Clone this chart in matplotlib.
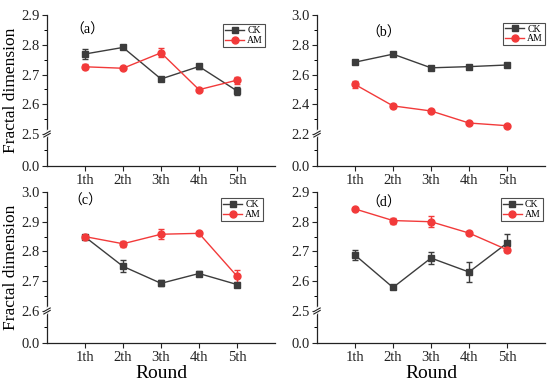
import numpy as np
import matplotlib
matplotlib.use("Agg")
import matplotlib.pyplot as plt
from matplotlib.lines import Line2D

plt.rcParams['font.family'] = ['Liberation Serif', 'Noto Sans CJK SC']

rounds = ["1th", "2th", "3th", "4th", "5th"]

# panel (a)
ck_a = [2.769, 2.791, 2.685, 2.727, 2.645]
ck_a_err = [0.018, 0.005, 0.006, 0.009, 0.014]
am_a = [2.726, 2.721, 2.773, 2.649, 2.681]
am_a_err = [0.008, 0.004, 0.015, 0.005, 0.012]

# panel (b)
ck_b = [2.683, 2.737, 2.645, 2.653, 2.664]
ck_b_err = [0.008, 0.008, 0.006, 0.006, 0.006]
am_b = [2.533, 2.389, 2.355, 2.274, 2.256]
am_b_err = [0.022, 0.016, 0.008, 0.008, 0.006]

# panel (c)
ck_c = [2.849, 2.750, 2.693, 2.726, 2.689]
ck_c_err = [0.006, 0.020, 0.010, 0.008, 0.005]
am_c = [2.850, 2.826, 2.858, 2.861, 2.717]
am_c_err = [0.005, 0.010, 0.017, 0.004, 0.020]

# panel (d)
ck_d = [2.688, 2.579, 2.678, 2.631, 2.728]
ck_d_err = [0.018, 0.004, 0.020, 0.035, 0.030]
am_d = [2.843, 2.804, 2.800, 2.762, 2.706]
am_d_err = [0.004, 0.010, 0.018, 0.007, 0.008]

panels = [
    ("（a）", ck_a, ck_a_err, am_a, am_a_err, 2.5, 2.9, 0.1),
    ("（b）", ck_b, ck_b_err, am_b, am_b_err, 2.2, 3.0, 0.2),
    ("（c）", ck_c, ck_c_err, am_c, am_c_err, 2.6, 3.0, 0.1),
    ("（d）", ck_d, ck_d_err, am_d, am_d_err, 2.5, 2.9, 0.1),
]

# axes rectangles (figure fraction)
rects = [
    [0.0855, 0.5654, 0.4145, 0.3953],
    [0.5764, 0.5654, 0.4145, 0.3953],
    [0.0855, 0.1021, 0.4145, 0.3953],
    [0.5764, 0.1021, 0.4145, 0.3953],
]
label_pos = [(1.05, 0.90), (1.76, 0.88), (1.0, 0.94), (1.76, 0.93)]
legend_anchor = [(0.956, 0.94), (1.0, 0.95), (0.947, 0.96), (0.99, 0.96)]

CK_COLOR = "#3c3c3c"
AM_COLOR = "#f23a3a"
K = 32 / 119  # height of the low segment relative to the upper segment


def make_scale(lo, hi):
    def fwd(v):
        v = np.asarray(v, dtype=float)
        return np.where(v < lo, v / lo * K, K + (v - lo) / (hi - lo))

    def inv(u):
        u = np.asarray(u, dtype=float)
        return np.where(u < K, u / K * lo, lo + (u - K) * (hi - lo))
    return fwd, inv


fig = plt.figure(figsize=(5.5, 3.82), dpi=100)
x = np.arange(1, len(rounds) + 1)

for i, (lab, ck, cke, am, ame, lo, hi, step) in enumerate(panels):
    ax = fig.add_axes(rects[i])
    fwd, inv = make_scale(lo, hi)
    ax.set_yscale("function", functions=(fwd, inv))

    eb1 = ax.errorbar(x, ck, yerr=cke, color=CK_COLOR, marker="s", ms=4.5, lw=1,
                      elinewidth=1, capsize=2, capthick=1, label="CK", zorder=3)
    eb2 = ax.errorbar(x, am, yerr=ame, color=AM_COLOR, marker="o", ms=5, lw=1,
                      elinewidth=1, capsize=2, capthick=1, label="AM", zorder=3)

    ax.set_xlim(0, 6)
    ax.set_ylim(0, hi)
    nmaj = int(round((hi - lo) / step))
    major = [0.0] + [lo + j * step for j in range(nmaj + 1)]
    minor = [lo / 2] + [lo + (j + 0.5) * step for j in range(nmaj)]
    ax.set_yticks(major)
    ax.set_yticklabels([f"{v:.1f}" for v in major])
    ax.set_yticks(minor, minor=True)
    ax.set_xticks(x)
    ax.set_xticklabels(rounds)

    for s in ["top", "right"]:
        ax.spines[s].set_visible(False)
    for s in ["left", "bottom"]:
        ax.spines[s].set_linewidth(0.9)
        ax.spines[s].set_color("#222222")
    ax.tick_params(axis="both", which="major", direction="out", length=3.5,
                   width=0.8, labelsize=10.5, pad=2, colors="#222222")
    ax.tick_params(axis="y", which="minor", direction="out", length=2, width=0.7)
    ax.tick_params(axis="x", which="minor", length=0)

    # axis break mark
    yb = K / (K + 1)
    ax.add_line(Line2D([-0.006, 0.006], [yb - 0.012, yb + 0.012], transform=ax.transAxes,
                       color="white", lw=3, clip_on=False, zorder=5))
    for dy in (-0.008, 0.008):
        ax.add_line(Line2D([-0.014, 0.014], [yb + dy - 0.012, yb + dy + 0.012],
                           transform=ax.transAxes, color="#222222", lw=0.8,
                           clip_on=False, zorder=6))

    ax.text(label_pos[i][0], label_pos[i][1], lab, transform=ax.get_xaxis_transform(),
            ha="center", va="center", fontsize=10)

    leg = ax.legend(handles=[eb1[0], eb2[0]], labels=["CK", "AM"],
                    loc="upper right", bbox_to_anchor=legend_anchor[i], fontsize=7,
                    frameon=True, fancybox=False, handlelength=2.0, handletextpad=0.3,
                    borderpad=0.2, labelspacing=0.1, borderaxespad=0, numpoints=1)
    leg.get_frame().set_edgecolor("#222222")
    leg.get_frame().set_linewidth(0.8)

    if i % 2 == 0:
        ax.set_ylabel("Fractal dimension", fontsize=12.5)
        ax.yaxis.set_label_coords(-0.125, 0.5)
    if i >= 2:
        ax.set_xlabel("Round", fontsize=14, labelpad=1)

fig.savefig("out.png", dpi=100)
